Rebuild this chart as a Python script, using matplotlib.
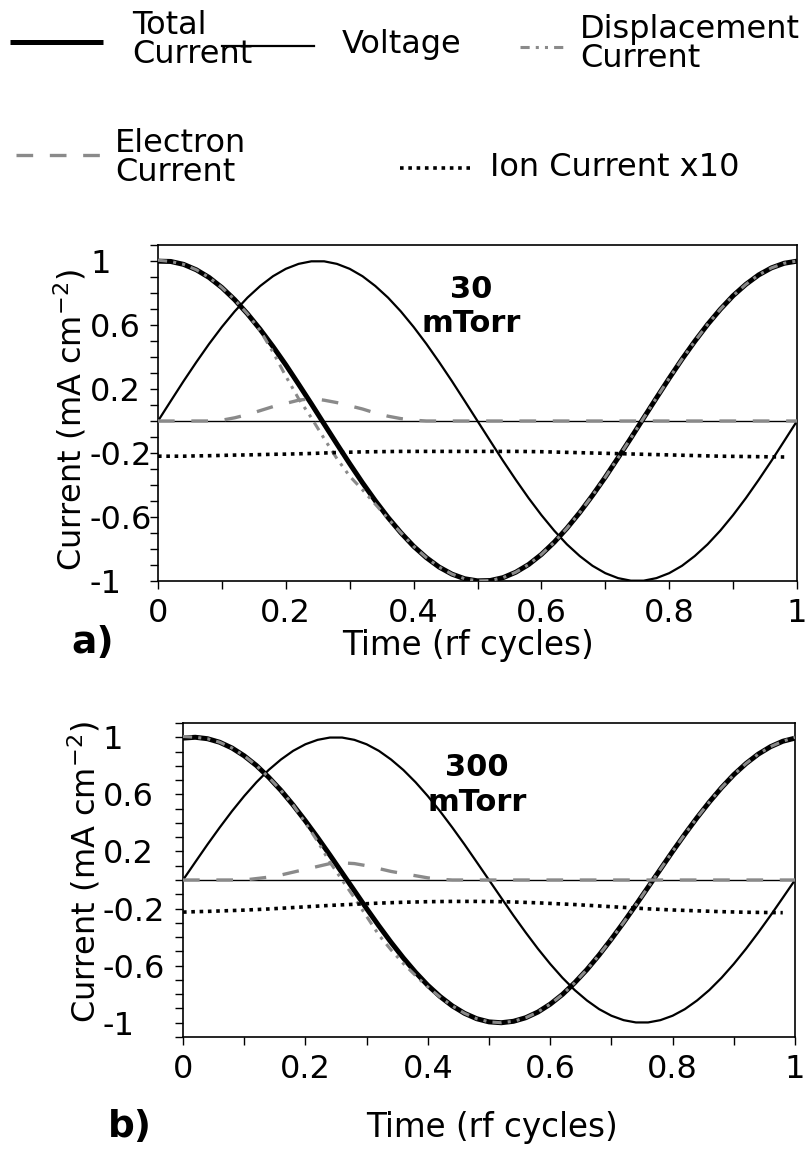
import numpy as np
import matplotlib
matplotlib.use("Agg")
import matplotlib.pyplot as plt
from matplotlib.lines import Line2D
from matplotlib.ticker import FixedLocator, MultipleLocator, FuncFormatter

plt.rcParams['font.family'] = ['DejaVu Sans']
plt.rcParams['mathtext.fontset'] = 'dejavusans'
plt.rcParams['axes.unicode_minus'] = False

# ---------------- data ----------------
time_cycles = [0.00, 0.02, 0.04, 0.06, 0.08, 0.10, 0.12, 0.14, 0.16, 0.18,
               0.20, 0.22, 0.24, 0.26, 0.28, 0.30, 0.32, 0.34, 0.36, 0.38,
               0.40, 0.42, 0.44, 0.46, 0.48, 0.50, 0.52, 0.54, 0.56, 0.58,
               0.60, 0.62, 0.64, 0.66, 0.68, 0.70, 0.72, 0.74, 0.76, 0.78,
               0.80, 0.82, 0.84, 0.86, 0.88, 0.90, 0.92, 0.94, 0.96, 0.98, 1.00]

voltage = [0.000, 0.125, 0.249, 0.368, 0.482, 0.588, 0.685, 0.771, 0.844, 0.905,
           0.951, 0.982, 0.998, 0.998, 0.982, 0.951, 0.905, 0.844, 0.771, 0.685,
           0.588, 0.482, 0.368, 0.249, 0.125, 0.000, -0.125, -0.249, -0.368, -0.482,
           -0.588, -0.685, -0.771, -0.844, -0.905, -0.951, -0.982, -0.998, -0.998, -0.982,
           -0.951, -0.905, -0.844, -0.771, -0.685, -0.588, -0.482, -0.368, -0.249, -0.125, 0.000]

# 30 mTorr
total_30 = [0.999, 0.997, 0.979, 0.945, 0.897, 0.834, 0.758, 0.670, 0.572, 0.465,
            0.351, 0.230, 0.107, -0.019, -0.144, -0.267, -0.386, -0.498, -0.603, -0.698,
            -0.783, -0.854, -0.913, -0.957, -0.986, -0.999, -0.997, -0.979, -0.945, -0.897,
            -0.834, -0.758, -0.670, -0.572, -0.465, -0.351, -0.230, -0.107, 0.019, 0.144,
            0.267, 0.386, 0.498, 0.603, 0.698, 0.783, 0.854, 0.913, 0.957, 0.986, 0.999]
displacement_30 = [1.005, 0.997, 0.979, 0.945, 0.897, 0.834, 0.758, 0.670, 0.565, 0.430,
                   0.280, 0.140, 0.020, -0.110, -0.235, -0.345, -0.430, -0.520, -0.610, -0.698,
                   -0.783, -0.854, -0.913, -0.957, -0.986, -0.999, -0.997, -0.979, -0.945, -0.897,
                   -0.834, -0.758, -0.670, -0.572, -0.465, -0.351, -0.230, -0.107, 0.019, 0.144,
                   0.267, 0.386, 0.498, 0.603, 0.698, 0.783, 0.854, 0.913, 0.957, 0.986, 1.000]
electron_30 = [0.0, 0.0, 0.0, 0.0, 0.0, 0.005, 0.02, 0.04, 0.065, 0.09,
               0.11, 0.13, 0.14, 0.13, 0.115, 0.095, 0.075, 0.05, 0.03, 0.015,
               0.005, 0.0, 0.0, 0.0, 0.0, 0.0, 0.0, 0.0, 0.0, 0.0,
               0.0, 0.0, 0.0, 0.0, 0.0, 0.0, 0.0, 0.0, 0.0, 0.0,
               0.0, 0.0, 0.0, 0.0, 0.0, 0.0, 0.0, 0.0, 0.0, 0.0, 0.0]
ion_x10_30 = [-0.220, -0.220, -0.220, -0.218, -0.217, -0.215, -0.213, -0.212, -0.210, -0.208,
              -0.207, -0.205, -0.203, -0.200, -0.197, -0.195, -0.193, -0.192, -0.191, -0.190,
              -0.190, -0.190, -0.190, -0.190, -0.190, -0.190, -0.190, -0.190, -0.190, -0.191,
              -0.192, -0.194, -0.196, -0.198, -0.200, -0.202, -0.204, -0.206, -0.208, -0.210,
              -0.212, -0.214, -0.216, -0.218, -0.220, -0.221, -0.222, -0.223, -0.224, -0.225, np.nan]

# 300 mTorr
total_300 = [0.994, 1.000, 0.990, 0.965, 0.925, 0.870, 0.802, 0.720, 0.628, 0.525,
             0.414, 0.297, 0.175, 0.050, -0.075, -0.200, -0.321, -0.437, -0.546, -0.647,
             -0.738, -0.816, -0.882, -0.934, -0.972, -0.994, -1.000, -0.990, -0.965, -0.925,
             -0.870, -0.802, -0.720, -0.628, -0.525, -0.414, -0.297, -0.175, -0.050, 0.075,
             0.200, 0.321, 0.437, 0.546, 0.647, 0.738, 0.816, 0.882, 0.934, 0.972, 0.994]
displacement_300 = [1.005, 1.000, 0.990, 0.965, 0.925, 0.870, 0.802, 0.720, 0.628, 0.525,
                    0.400, 0.270, 0.125, 0.000, -0.125, -0.255, -0.385, -0.490, -0.585, -0.670,
                    -0.750, -0.820, -0.882, -0.934, -0.972, -0.994, -1.000, -0.990, -0.965, -0.925,
                    -0.870, -0.802, -0.720, -0.628, -0.525, -0.414, -0.297, -0.175, -0.050, 0.075,
                    0.200, 0.321, 0.437, 0.546, 0.647, 0.738, 0.816, 0.882, 0.934, 0.972, 1.000]
electron_300 = [0.0, 0.0, 0.0, 0.0, 0.0, 0.0, 0.01, 0.02, 0.035, 0.055,
                0.075, 0.095, 0.115, 0.12, 0.115, 0.10, 0.08, 0.06, 0.045, 0.03,
                0.015, 0.005, 0.0, 0.0, 0.0, 0.0, 0.0, 0.0, 0.0, 0.0,
                0.0, 0.0, 0.0, 0.0, 0.0, 0.0, 0.0, 0.0, 0.0, 0.0,
                0.0, 0.0, 0.0, 0.0, 0.0, 0.0, 0.0, 0.0, 0.0, 0.0, 0.0]
ion_x10_300 = [-0.225, -0.222, -0.220, -0.217, -0.214, -0.211, -0.207, -0.203, -0.198, -0.193,
               -0.188, -0.183, -0.178, -0.174, -0.170, -0.166, -0.162, -0.159, -0.156, -0.154,
               -0.152, -0.151, -0.150, -0.150, -0.150, -0.151, -0.152, -0.154, -0.157, -0.160,
               -0.164, -0.168, -0.172, -0.177, -0.182, -0.187, -0.192, -0.197, -0.202, -0.206,
               -0.210, -0.213, -0.216, -0.219, -0.222, -0.224, -0.226, -0.227, -0.228, -0.229, np.nan]

y_major_ticks = [-1, -0.6, -0.2, 0.2, 0.6, 1]
x_major_ticks = [0, 0.2, 0.4, 0.6, 0.8, 1]
legend_labels = ["Total\nCurrent", "Voltage", "Displacement\nCurrent",
                 "Electron\nCurrent", "Ion Current x10"]
panel_pressures = ["30\nmTorr", "300\nmTorr"]
panel_letters = ["a)", "b)"]

# ---------------- styles ----------------
W, H = 805, 1151
GRAY = '#8a8a8a'
STY = {
    'total': dict(color='black', lw=3.6, solid_capstyle='butt'),
    'volt': dict(color='black', lw=1.6),
    'disp': dict(color=GRAY, lw=2.2, linestyle=(0, (3, 2, 1, 2, 1, 2))),
    'elec': dict(color=GRAY, lw=2.4, linestyle=(0, (5, 5)), dash_capstyle='butt'),
    'ion': dict(color='black', lw=2.6, linestyle=(0, (1.0, 1.3)), dash_capstyle='butt'),
}
FS = 23

fig = plt.figure(figsize=(W / 100, H / 100), dpi=100)


def px(x, y):
    return x / W, 1 - y / H


def box(l, t, r, b):
    return [l / W, 1 - b / H, (r - l) / W, (b - t) / H]


def fmt(v, p):
    return f"{v:g}"


def panel(rect, total, disp, elec, ion, ylim, ypad, xpad, pressure, ptxt):
    ax = fig.add_axes(rect)
    ax.axhline(0, color='black', lw=1.0, zorder=1)
    ax.plot(time_cycles, voltage, zorder=2, **STY['volt'])
    ax.plot(time_cycles, total, zorder=3, **STY['total'])
    ax.plot(time_cycles, disp, zorder=4, **STY['disp'])
    ax.plot(time_cycles, elec, zorder=4, **STY['elec'])
    ax.plot(time_cycles, ion, zorder=5, **STY['ion'])
    ax.set_xlim(0, 1)
    ax.set_ylim(*ylim)
    ax.yaxis.set_major_locator(FixedLocator(y_major_ticks))
    ax.yaxis.set_minor_locator(MultipleLocator(0.1))
    ax.xaxis.set_major_locator(FixedLocator(x_major_ticks))
    ax.xaxis.set_minor_locator(MultipleLocator(0.1))
    ax.xaxis.set_major_formatter(FuncFormatter(fmt))
    ax.yaxis.set_major_formatter(FuncFormatter(fmt))
    ax.tick_params(which='both', direction='out', length=6, width=1.0,
                   top=False, right=False)
    ax.tick_params(axis='y', which='major', pad=ypad, labelsize=FS)
    ax.tick_params(axis='x', which='major', pad=xpad, labelsize=FS)
    for lab in ax.get_yticklabels():
        lab.set_horizontalalignment('left')
    for s in ax.spines.values():
        s.set_linewidth(1.2)
    ax.text(ptxt[0], ptxt[1], pressure, ha='center', va='center',
            fontsize=22, fontweight='bold', linespacing=1.25)
    return ax


ax_a = panel(box(158, 245, 797, 581), total_30, displacement_30, electron_30,
             ion_x10_30, (-1, 1.1), 43, 6, panel_pressures[0], (0.49, 0.715))
ax_b = panel(box(183, 723, 795, 1037), total_300, displacement_300, electron_300,
             ion_x10_300, (-1.1, 1.1), 52, 6, panel_pressures[1], (0.48, 0.665))

# axis titles
fig.text(*px(70, 420), "Current (mA cm$^{-2}$)", rotation=90, ha='center',
         va='center', fontsize=23)
fig.text(*px(84, 872), "Current (mA cm$^{-2}$)", rotation=90, ha='center',
         va='center', fontsize=23)
fig.text(*px(468, 646), "Time (rf cycles)", ha='center', va='center', fontsize=23.5)
fig.text(*px(492, 1128), "Time (rf cycles)", ha='center', va='center', fontsize=23.5)
fig.text(*px(93, 643), panel_letters[0], ha='center', va='center', fontsize=27,
         fontweight='bold')
fig.text(*px(130, 1127), panel_letters[1], ha='center', va='center', fontsize=27,
         fontweight='bold')


# legend (drawn manually, as in the original figure)
def sample(x0, x1, y, key):
    (fx0, fy), (fx1, _) = px(x0, y), px(x1, y)
    fig.add_artist(Line2D([fx0, fx1], [fy, fy], transform=fig.transFigure,
                          **STY[key]))


LFS = 23
sample(10, 103, 42, 'total')
fig.text(*px(132, 40), legend_labels[0], ha='left', va='center', fontsize=LFS,
         linespacing=0.95)
sample(222, 314, 46, 'volt')
fig.text(*px(342, 45), legend_labels[1], ha='left', va='center', fontsize=LFS)
sample(520, 565, 47, 'disp')
fig.text(*px(580, 44), legend_labels[2], ha='left', va='center', fontsize=LFS,
         linespacing=0.95)
sample(16, 100, 155, 'elec')
fig.text(*px(115, 158), legend_labels[3], ha='left', va='center', fontsize=LFS,
         linespacing=0.95)
sample(400, 470, 168, 'ion')
fig.text(*px(490, 167), legend_labels[4], ha='left', va='center', fontsize=LFS)

fig.savefig("out.png", dpi=100)
